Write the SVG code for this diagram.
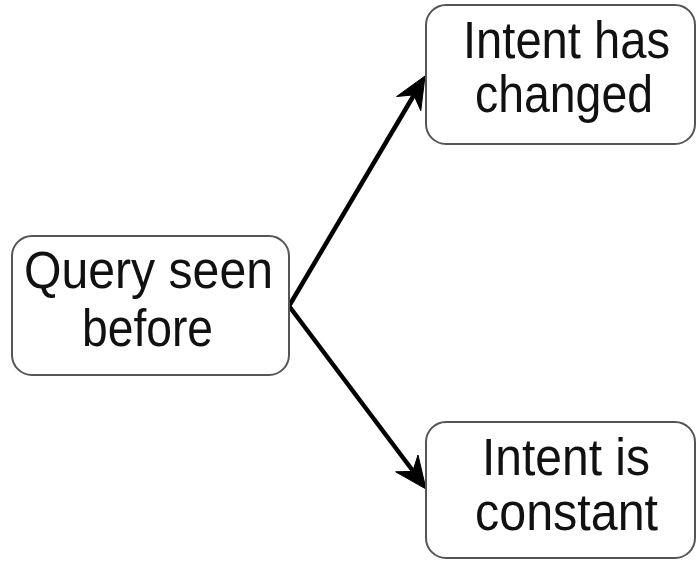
<svg xmlns="http://www.w3.org/2000/svg" width="697" height="561" viewBox="0 0 697 561">
  <style>
    .box { fill: #ffffff; stroke: #555555; stroke-width: 2; }
    .label { font-family: "Liberation Sans", Arial, sans-serif; font-size: 51px; fill: #111111; text-anchor: middle; }
    .edge { fill: none; stroke: #000000; stroke-width: 4.5; }
    .head { fill: #000000; stroke: #000000; stroke-width: 1; stroke-linejoin: miter; }
  </style>
  <rect width="697" height="561" fill="#ffffff"/>

  <g id="connectors">
    <path class="edge" d="M289,306 L414,95"/>
    <polygon class="head" points="425,76 420.8,110.7 413.8,94.9 396.6,96.5"/>
    <path class="edge" d="M289,306 L413,471"/>
    <polygon class="head" points="426,489 395.6,471.8 412.8,471.4 418,455"/>
  </g>

  <g id="query-seen-before">
    <rect class="box" x="12" y="236" width="277" height="139" rx="20" ry="20"/>
    <text class="label" x="148.5" y="288" textLength="249" lengthAdjust="spacingAndGlyphs">Query seen</text>
    <text class="label" x="147.5" y="346" textLength="131" lengthAdjust="spacingAndGlyphs">before</text>
  </g>

  <g id="intent-has-changed">
    <rect class="box" x="426" y="5" width="269" height="139" rx="20" ry="20"/>
    <text class="label" x="566.5" y="58" textLength="207" lengthAdjust="spacingAndGlyphs">Intent has</text>
    <text class="label" x="564" y="112" textLength="178" lengthAdjust="spacingAndGlyphs">changed</text>
  </g>

  <g id="intent-is-constant">
    <rect class="box" x="426" y="422" width="269" height="136" rx="20" ry="20"/>
    <text class="label" x="566" y="475" textLength="168" lengthAdjust="spacingAndGlyphs">Intent is</text>
    <text class="label" x="566.5" y="530" textLength="183" lengthAdjust="spacingAndGlyphs">constant</text>
  </g>
</svg>
